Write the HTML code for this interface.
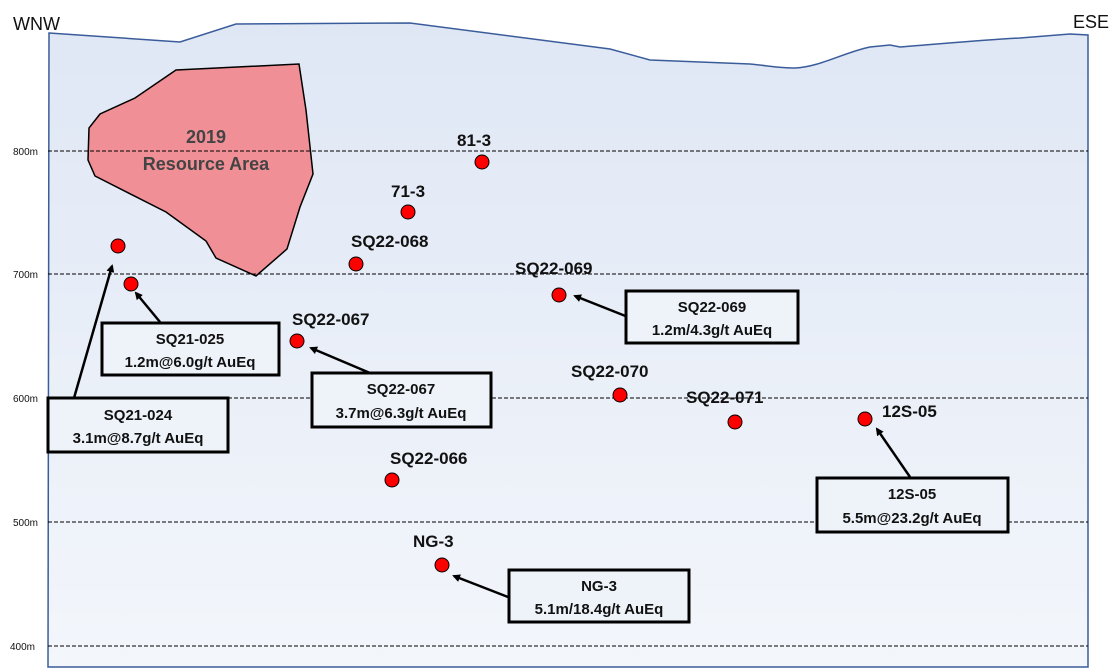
<!DOCTYPE html>
<html><head><meta charset="utf-8"><style>
html,body{margin:0;padding:0;background:#fff}
svg{display:block}
text{font-family:"Liberation Sans",sans-serif}
.lbl{font-weight:bold;font-size:17px;fill:#111}
.ax{font-size:10px;fill:#111}
.bx{fill:#eef3fa;stroke:#000;stroke-width:3}
.bt{font-weight:bold;font-size:15px;fill:#111;text-anchor:middle}
</style></head><body>
<svg width="1120" height="670" viewBox="0 0 1120 670">
<defs>
<linearGradient id="g" x1="0" y1="0" x2="0" y2="1"><stop offset="0" stop-color="#dfe7f5"/><stop offset="1" stop-color="#f3f6fb"/></linearGradient>
<marker id="a" markerWidth="8" markerHeight="8" refX="6" refY="4" orient="auto" markerUnits="userSpaceOnUse"><path d="M0,0 L8,4 L0,8 Z" fill="#000"/></marker>
</defs>
<text x="13" y="30" font-size="18" fill="#111">WNW</text>
<text x="1073" y="28" font-size="18" fill="#111">ESE</text>
<path d="M49,33 L180,42 L236,24 L410,23 L610,49 L650,60 L750,64 C770,66 780,68 795,68 C820,67 845,52 870,47 L890,45 L900,47 C940,44 980,40 1020,38 L1070,34 L1088,35 L1088,667 L48,667 Z" fill="url(#g)" stroke="#3b5c9a" stroke-width="1.5"/>
<polygon points="176,70 299,64 306,110 313,174 300,207 287,249 256,276 216,258 206,241 166,212 95,176 88,160 89,128 100,114 135,98" fill="#f09096" stroke="#000" stroke-width="1.5"/>
<text x="206" y="143" text-anchor="middle" font-weight="bold" font-size="18" fill="#444">2019</text>
<text x="206" y="170" text-anchor="middle" font-weight="bold" font-size="18" fill="#444">Resource Area</text>
<g stroke="#000" stroke-width="1" stroke-dasharray="4,2">
<line x1="48" y1="151" x2="1088" y2="151"/><line x1="48" y1="274" x2="1088" y2="274"/><line x1="48" y1="398" x2="1088" y2="398"/><line x1="48" y1="522" x2="1088" y2="522"/><line x1="48" y1="646" x2="1088" y2="646"/>
</g>
<text class="ax" x="13" y="155">800m</text><text class="ax" x="13" y="278">700m</text><text class="ax" x="13" y="402">600m</text><text class="ax" x="13" y="526">500m</text><text class="ax" x="10" y="650">400m</text>
<g fill="#f00" stroke="#000" stroke-width="1">
<circle cx="118" cy="246" r="7"/><circle cx="131" cy="284" r="7"/><circle cx="297" cy="341" r="7"/><circle cx="356" cy="264" r="7"/><circle cx="408" cy="212" r="7"/><circle cx="482" cy="162" r="7"/><circle cx="559" cy="295" r="7"/><circle cx="620" cy="395" r="7"/><circle cx="735" cy="422" r="7"/><circle cx="865" cy="419" r="7"/><circle cx="392" cy="480" r="7"/><circle cx="442" cy="565" r="7"/>
</g>
<text class="lbl" x="457" y="146">81-3</text>
<text class="lbl" x="391" y="197">71-3</text>
<text class="lbl" x="351" y="247">SQ22-068</text>
<text class="lbl" x="515" y="274">SQ22-069</text>
<text class="lbl" x="292" y="325">SQ22-067</text>
<text class="lbl" x="571" y="377">SQ22-070</text>
<text class="lbl" x="686" y="403">SQ22-071</text>
<text class="lbl" x="882" y="417">12S-05</text>
<text class="lbl" x="390" y="464">SQ22-066</text>
<text class="lbl" x="413" y="547">NG-3</text>
<g stroke="#000" stroke-width="2.5" marker-end="url(#a)">
<line x1="74" y1="398" x2="112" y2="266"/>
<line x1="160" y1="322" x2="136" y2="293"/>
<line x1="370" y1="373" x2="311" y2="348"/>
<line x1="628" y1="317" x2="575" y2="296"/>
<line x1="910" y1="477" x2="877" y2="429"/>
<line x1="508" y1="597" x2="454" y2="576"/>
</g>
<rect class="bx" x="102" y="323" width="177" height="52"/><text class="bt" x="190" y="344">SQ21-025</text><text class="bt" x="190" y="367">1.2m@6.0g/t AuEq</text>
<rect class="bx" x="48" y="398" width="180" height="54"/><text class="bt" x="138" y="420">SQ21-024</text><text class="bt" x="138" y="443">3.1m@8.7g/t AuEq</text>
<rect class="bx" x="312" y="373" width="179" height="54"/><text class="bt" x="401" y="394">SQ22-067</text><text class="bt" x="401" y="418">3.7m@6.3g/t AuEq</text>
<rect class="bx" x="626" y="291" width="172" height="52"/><text class="bt" x="712" y="312">SQ22-069</text><text class="bt" x="712" y="335">1.2m/4.3g/t AuEq</text>
<rect class="bx" x="817" y="478" width="191" height="54"/><text class="bt" x="912" y="499">12S-05</text><text class="bt" x="912" y="523">5.5m@23.2g/t AuEq</text>
<rect class="bx" x="509" y="570" width="180" height="52"/><text class="bt" x="599" y="591">NG-3</text><text class="bt" x="599" y="614">5.1m/18.4g/t AuEq</text>
</svg>
</body></html>
